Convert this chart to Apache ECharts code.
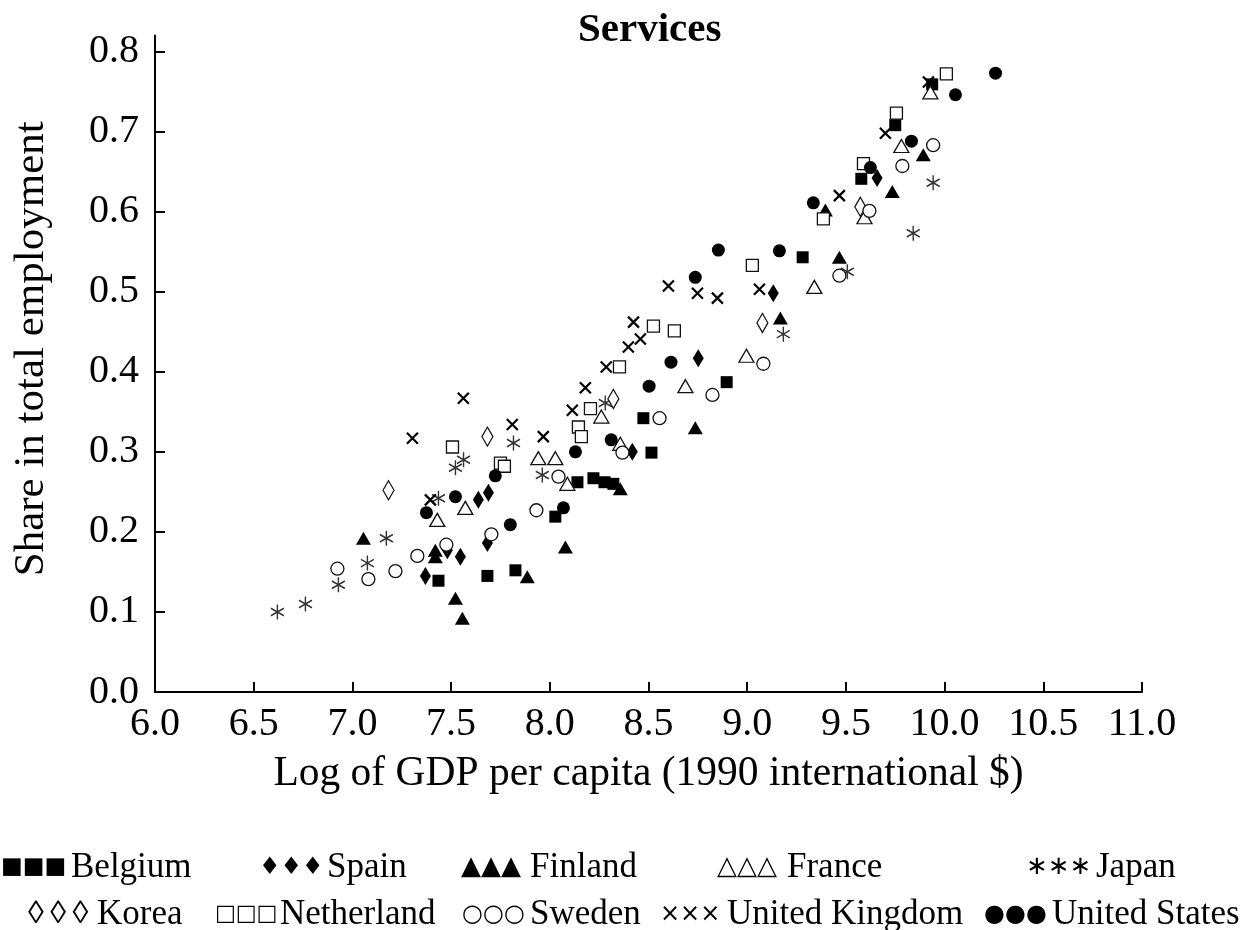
<!DOCTYPE html>
<html>
<head>
<meta charset="utf-8">
<script src="https://cdn.jsdelivr.net/npm/echarts@6/dist/echarts.min.js"></script>
<style>
html,body{margin:0;padding:0;background:#fff;}
#chart{width:1243px;height:930px;}
</style>
</head>
<body>
<div id="chart"></div>
<script>
// ---- data (log GDP per capita, services share) ----
const belgium = [[7.436,0.139],[7.684,0.145],[7.826,0.152],[8.028,0.219],[8.140,0.262],[8.221,0.267],[8.277,0.262],[8.322,0.260],[8.474,0.342],[8.515,0.299],[8.896,0.387],[9.281,0.543],[9.578,0.641],[9.750,0.708],[9.937,0.759]];
const spain = [[7.370,0.145],[7.481,0.177],[7.547,0.169],[7.684,0.186],[7.638,0.240],[7.689,0.249],[8.418,0.300],[8.752,0.417],[9.132,0.498],[9.658,0.642]];
const finland = [[7.056,0.192],[7.420,0.177],[7.420,0.169],[7.522,0.117],[7.557,0.092],[7.886,0.144],[8.079,0.181],[8.357,0.254],[8.737,0.330],[9.168,0.467],[9.467,0.543],[9.396,0.602],[9.735,0.625],[9.892,0.671]];
const france = [[7.430,0.215],[7.572,0.230],[7.942,0.292],[8.028,0.292],[8.089,0.260],[8.261,0.344],[8.357,0.310],[8.687,0.382],[8.996,0.420],[9.340,0.506],[9.594,0.593],[9.781,0.682],[9.928,0.749]];
const japan = [[6.620,0.100],[6.762,0.110],[6.929,0.134],[7.076,0.161],[7.172,0.192],[7.436,0.242],[7.522,0.280],[7.563,0.290],[7.816,0.311],[7.962,0.271],[8.281,0.361],[9.183,0.447],[9.507,0.525],[9.841,0.573],[9.942,0.636]];
const korea = [[7.183,0.252],[7.684,0.319],[8.322,0.366],[9.077,0.461],[9.573,0.606]];
const netherland = [[7.507,0.306],[7.750,0.286],[7.770,0.282],[8.145,0.331],[8.160,0.319],[8.206,0.354],[8.353,0.406],[8.525,0.457],[8.631,0.451],[9.026,0.533],[9.386,0.591],[9.589,0.660],[9.756,0.723],[10.009,0.772]];
const sweden = [[6.924,0.154],[7.081,0.141],[7.218,0.151],[7.329,0.170],[7.476,0.184],[7.704,0.197],[7.932,0.227],[8.044,0.269],[8.368,0.299],[8.556,0.342],[8.824,0.371],[9.082,0.410],[9.467,0.520],[9.619,0.601],[9.786,0.657],[9.942,0.683]];
const unitedKingdom = [[7.304,0.317],[7.395,0.240],[7.562,0.367],[7.810,0.334],[7.967,0.319],[8.114,0.352],[8.180,0.380],[8.286,0.406],[8.398,0.431],[8.459,0.441],[8.424,0.462],[8.601,0.507],[8.748,0.498],[8.849,0.492],[9.062,0.503],[9.467,0.620],[9.700,0.698],[9.918,0.762]];
const unitedStates = [[7.375,0.224],[7.522,0.244],[7.724,0.270],[7.800,0.209],[8.069,0.230],[8.130,0.300],[8.311,0.315],[8.503,0.382],[8.614,0.412],[8.737,0.518],[8.854,0.552],[9.163,0.551],[9.335,0.611],[9.624,0.655],[9.832,0.688],[10.055,0.746],[10.258,0.773]];

const countries = ['Belgium','Spain','Finland','France','Japan','Korea','Netherland','Sweden','United Kingdom','United States'];
const legendGlyphs = ['■■■','♦♦♦','▲▲▲','△△△','∗∗∗','◊◊◊','□□□','○○○','×××','●●●'];
const yTickValues = [0,0.1,0.2,0.3,0.4,0.5,0.6,0.7,0.8];
const titleText = 'Services';
const xName = 'Log of GDP per capita (1990 international $)';
const yName = 'Share in total employment';

const FONT = 'Liberation Serif, Times New Roman, serif';
const GFONT = 'DejaVu Sans';
const ASTERISK = 'path://M0,-1L0,1M-0.866,-0.5L0.866,0.5M-0.866,0.5L0.866,-0.5';
const CROSS = 'path://M-1,-1L1,1M-1,1L1,-1';

const seriesData = [belgium, spain, finland, france, japan, korea, netherland, sweden, unitedKingdom, unitedStates];
const styles = [
  {symbol:'rect', size:12, item:{color:'#000'}},
  {symbol:'diamond', size:[11,18], item:{color:'#000'}},
  {symbol:'triangle', size:[15,13], item:{color:'#000'}},
  {symbol:'triangle', size:[15,13], item:{color:'#fff', borderColor:'#111', borderWidth:1.3}},
  {symbol:ASTERISK, size:[13,15], item:{color:'none', borderColor:'#333', borderWidth:1.5}},
  {symbol:'diamond', size:[11,19], item:{color:'#fff', borderColor:'#111', borderWidth:1.3}},
  {symbol:'rect', size:12, item:{color:'#fff', borderColor:'#111', borderWidth:1.3}},
  {symbol:'circle', size:13, item:{color:'#fff', borderColor:'#111', borderWidth:1.3}},
  {symbol:CROSS, size:11, item:{color:'none', borderColor:'#000', borderWidth:2.2}},
  {symbol:'circle', size:13, item:{color:'#000'}}
];

const series = countries.map((name, i) => ({
  name: name,
  type: 'scatter',
  data: seriesData[i],
  symbol: styles[i].symbol,
  symbolSize: styles[i].size,
  itemStyle: Object.assign({opacity: 1}, styles[i].item),
  emphasis: {disabled: true},
  z: 2
}));

const legendPos = [
  [-4,850],[254,850],[456,850],[712,850],[1021,850],
  [23,897],[210,897],[457,897],[655,897],[979,897]
];
const glyphSize = [23, 24, 26, 26, 26, 32, 22, 24, 24, 24];
const glyphFont = [GFONT, GFONT, GFONT, GFONT, GFONT, FONT, GFONT, GFONT, GFONT, GFONT];
const glyphSep = ['', '', '', '', '', '\u2009', '', '', '', ''];
const glyphWidth = [70, 68, 69, 70, 70, 69, 65, 68, 67, 68];
const legends = countries.map((name, i) => ({
  data: [name],
  left: legendPos[i][0],
  top: legendPos[i][1],
  padding: 0,
  icon: 'none',
  itemWidth: 0,
  itemHeight: 0,
  selectedMode: false,
  formatter: n => '{g|' + legendGlyphs[i].split('').join(glyphSep[i]) + '}{t|' + n + '}',
  textStyle: {
    rich: {
      g: {fontFamily: glyphFont[i], fontSize: glyphSize[i], color: '#000', width: glyphWidth[i], align: 'left', verticalAlign: 'middle', lineHeight: 40},
      t: {fontFamily: FONT, fontSize: 35, color: '#000', verticalAlign: 'middle', lineHeight: 40}
    }
  }
}));

const chart = echarts.init(document.getElementById('chart'), null, {renderer: 'canvas'});
chart.setOption({
  backgroundColor: '#fff',
  animation: false,
  title: {
    text: titleText,
    left: 573,
    top: 5,
    textStyle: {fontFamily: FONT, fontWeight: 'bold', fontSize: 41, color: '#000'}
  },
  legend: legends,
  grid: {left: 155, right: 101, top: 35.5, bottom: 238, containLabel: false},
  xAxis: {
    type: 'value',
    min: 6,
    max: 11,
    interval: 0.5,
    name: xName,
    nameLocation: 'middle',
    nameGap: 61,
    nameTextStyle: {fontFamily: FONT, fontSize: 41.5, color: '#000'},
    axisLine: {show: true, lineStyle: {color: '#000', width: 2}},
    axisTick: {show: true, inside: true, length: 10, lineStyle: {color: '#000', width: 2}},
    axisLabel: {fontFamily: FONT, fontSize: 40, color: '#000', margin: 12, formatter: v => v.toFixed(1)},
    splitLine: {show: false}
  },
  yAxis: {
    type: 'value',
    min: 0,
    max: 0.82,
    name: yName,
    nameLocation: 'middle',
    nameGap: 102,
    nameTextStyle: {fontFamily: FONT, fontSize: 43, color: '#000', padding: [0, 0, 0, 30]},
    axisLine: {show: true, lineStyle: {color: '#000', width: 2}},
    axisTick: {show: true, inside: true, length: 10, lineStyle: {color: '#000', width: 2}, customValues: yTickValues},
    axisLabel: {fontFamily: FONT, fontSize: 40, color: '#000', margin: 16, customValues: yTickValues, formatter: v => v.toFixed(1)},
    splitLine: {show: false}
  },
  series: series
});
</script>
</body>
</html>
